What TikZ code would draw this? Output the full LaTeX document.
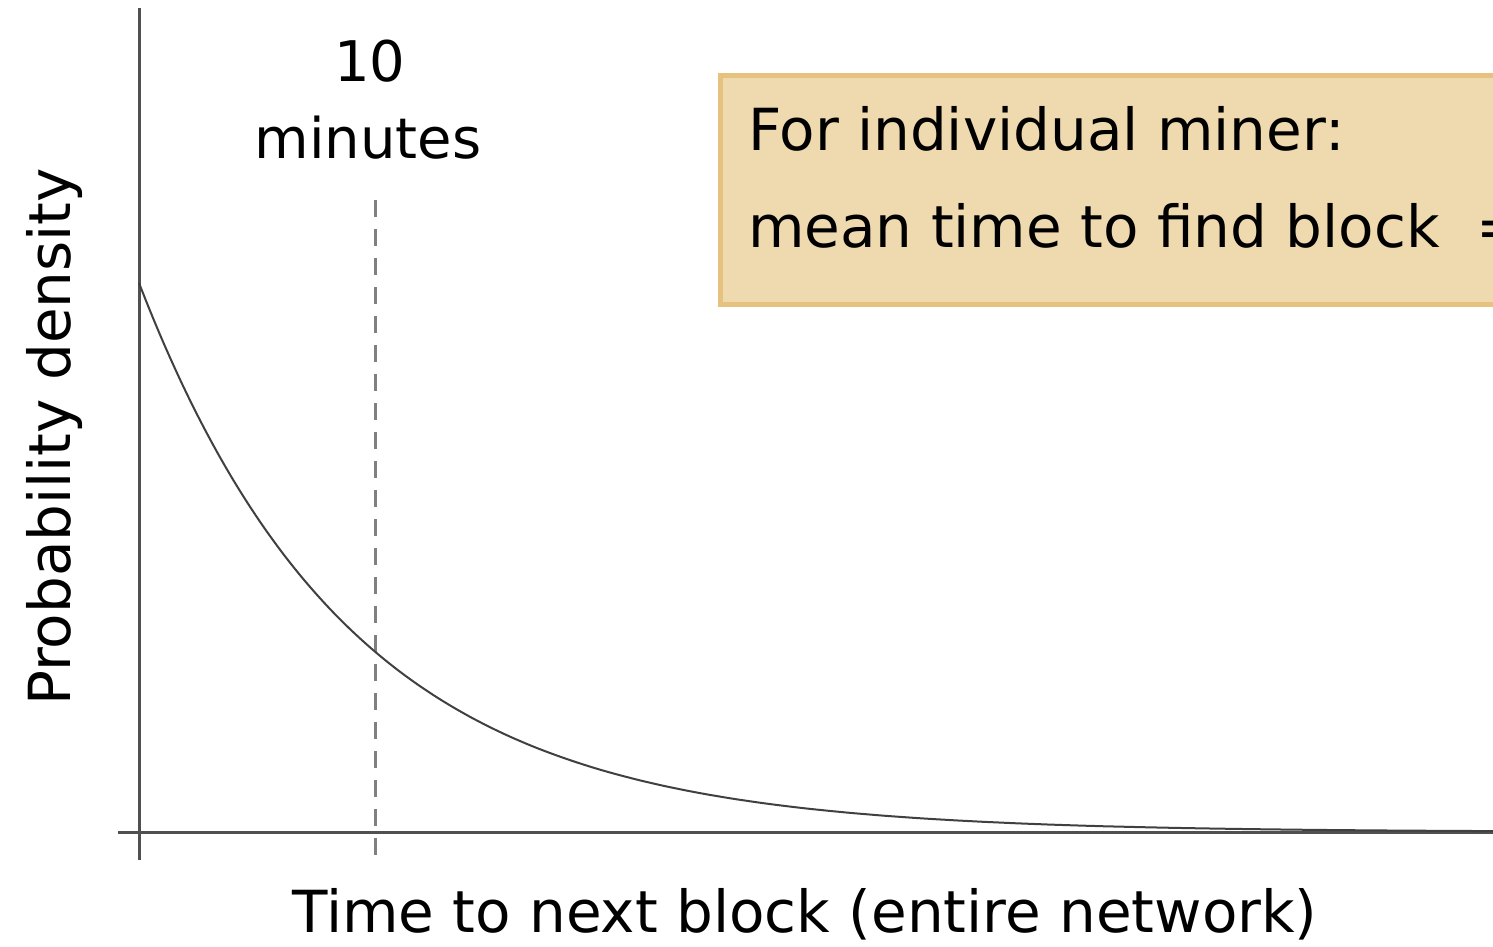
\documentclass[tikz,border=0pt]{standalone}
\usepackage{fontspec}
\setmainfont{DejaVu Sans}
\usetikzlibrary{positioning}
\definecolor{axisgray}{HTML}{505050}
\definecolor{curvegray}{HTML}{404040}
\definecolor{dashgray}{HTML}{808080}
\definecolor{boxfill}{HTML}{EFD9AF}
\definecolor{boxedge}{HTML}{E6C27E}
\tikzstyle{axis}     = [draw=axisgray, line width=3pt]
\tikzstyle{curve}    = [draw=curvegray, line width=2pt]
\tikzstyle{meanline} = [draw=dashgray, line width=3pt, dash pattern=on 17pt off 12pt]
\tikzstyle{infobox}  = [rectangle, draw=boxedge, fill=boxfill, line width=5pt, minimum width=830pt, minimum height=229pt, anchor=north west]
\tikzstyle{bigtext}  = [inner sep=0pt, font=\fontsize{56}{60}\selectfont]
\tikzstyle{boxtext}  = [inner sep=0pt, font=\fontsize{58}{62}\selectfont]

\begin{document}
\begin{tikzpicture}[x=1pt, y=-1pt]

		\useasboundingbox (0,0) rectangle (1493,946);
		\clip (0,0) rectangle (1493,946);

		% Axes %

		\coordinate (ytop) at (139,8);
		\coordinate (ybot) at (139,860);
		\coordinate (xleft) at (118,832);
		\coordinate (xright) at (1493,832);
		\path [axis] (ytop) -- (ybot);
		\path [axis] (xleft) -- (xright);

		% Mean at 10 minutes %

		\coordinate (meantop) at (375,200);
		\coordinate (meanbot) at (375,860);
		\path [meanline] (meantop) -- (meanbot);
		\node [bigtext, anchor=base] (ten) at (370,81) {10};
		\node [bigtext, anchor=base] (minutes) at (368,158) {minutes};

		% Density curve %

		\path [curve] plot [domain=139:1493, samples=160, smooth] (\x, {832-549*exp(-(\x-139)/212)});

		% Info box %

		\node [infobox] (box) at (718,73) {};
		\node [boxtext, anchor=base west] (line1) at (748,150) {For individual miner:};
		\node [boxtext, anchor=base west] (line2) at (748,247) {mean time to find block};
		\node [boxtext, anchor=base west] (eq) at (1476,247) {=};

		% Axis labels %

		\node [boxtext, anchor=base] (xlabel) at (805,932) {Time to next block (entire network)};
		\node [boxtext, anchor=base, rotate=90] (ylabel) at (70,437) {Probability density};

\end{tikzpicture}
\end{document}
